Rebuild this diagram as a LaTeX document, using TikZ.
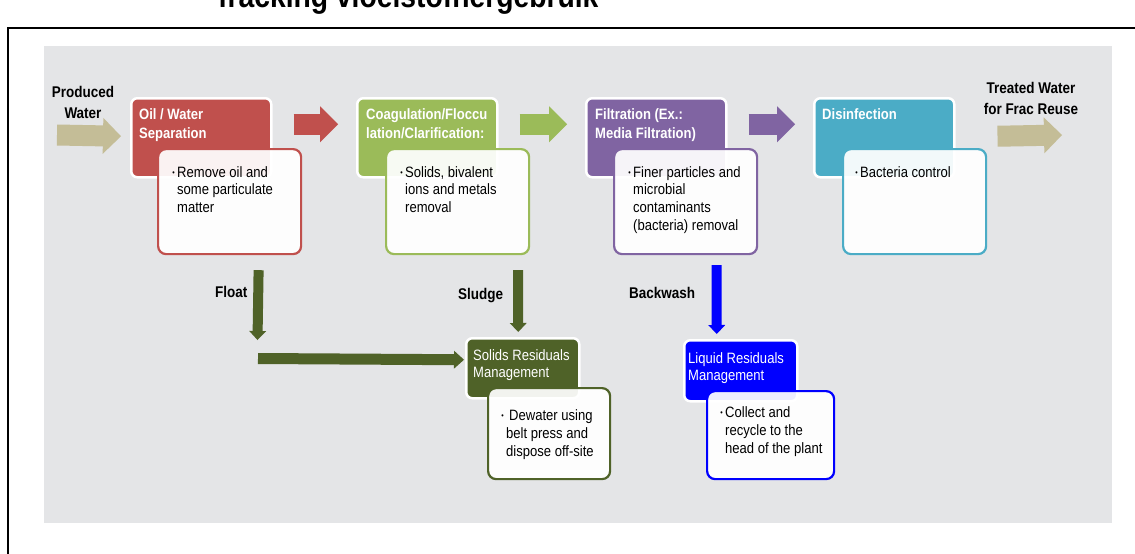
\documentclass[tikz,border=0pt]{standalone}
\usepackage{fontspec}
\setmainfont{Liberation Sans}[FakeStretch=0.87]
\usetikzlibrary{arrows.meta, positioning, calc}

\definecolor{oilred}{HTML}{C0504D}
\definecolor{coaggreen}{HTML}{9BBB59}
\definecolor{filtpurple}{HTML}{8064A2}
\definecolor{disteal}{HTML}{4BACC6}
\definecolor{flowtan}{HTML}{C4BD97}
\definecolor{solidgreen}{HTML}{4F6228}
\definecolor{liquidblue}{HTML}{0000FF}
\definecolor{panelgray}{HTML}{E4E5E7}

% small hanging bullet
\newcommand{\bul}{\llap{\raisebox{1.5pt}{\fontsize{8}{8}\selectfont\textbullet}\hspace{2.5pt}}}

\begin{document}
\begin{tikzpicture}[
    x=1pt, y=-1pt,
    % Styles
    header/.style={rectangle, draw=white, line width=2.5pt, rounded corners=6pt, anchor=north west, inner sep=0pt, minimum width=140pt, minimum height=79pt},
    detail/.style={rectangle, line width=2.2pt, rounded corners=8pt, anchor=north west, inner sep=0pt, fill=white, fill opacity=0.93, minimum width=143pt, minimum height=105pt},
    headtext/.style={anchor=north west, inner sep=0pt, align=left, text=white, font=\fontsize{15}{19}\selectfont\bfseries},
    resttext/.style={anchor=north west, inner sep=0pt, align=left, text=white, font=\fontsize{15}{17.5}\selectfont},
    bullettext/.style={anchor=north west, inner sep=0pt, align=left, font=\fontsize{15}{17.7}\selectfont},
    label/.style={inner sep=0pt, font=\fontsize{15.5}{21.5}\selectfont\bfseries},
    bigflow/.style={draw=#1, line width=21pt, -{Triangle[length=18pt, width=36pt, line width=0pt]}},
    smallflow/.style={draw=#1, line width=10pt, -{Triangle[length=9pt, width=17pt, line width=0pt]}},
]

% === PAGE AND PANEL ===
\useasboundingbox (0,0) rectangle (1135,554);
\fill[white] (0,0) rectangle (1135,554);
\fill[panelgray] (44,46) rectangle (1112,523);
\draw[line width=1.3pt] (8,554) -- (8,28) -- (1135,28);
\begin{scope}
\clip (0,0) rectangle (1135,554);
\node[anchor=base west, inner sep=0pt, font=\fontsize{32.5}{34}\selectfont\bfseries] (title) at (218,8) {fracking vloeistofhergebruik};
\end{scope}

% === TREATMENT STEPS ===
\node[header, fill=oilred] (oil) at (130,97) {};
\node[header, fill=coaggreen] (coag) at (356,97) {};
\node[header, fill=filtpurple] (filt) at (585,97) {};
\node[header, fill=disteal] (dis) at (813,97) {};

\node[headtext] (oilT) at (139,108) {Oil / Water\\Separation};
\node[headtext] (coagT) at (366,108) {Coagulation/Floccu\\lation/Clarification:};
\node[headtext] (filtT) at (595,108) {Filtration (Ex.:\\Media Filtration)};
\node[headtext] (disT) at (822,108) {Disinfection};

\node[detail, draw=oilred] (oilB) at (157,148) {};
\node[detail, draw=coaggreen] (coagB) at (385,148) {};
\node[detail, draw=filtpurple] (filtB) at (613,148) {};
\node[detail, draw=disteal] (disB) at (842,148) {};

\node[bullettext] (oilD) at (177,166) {\bul Remove oil and\\some particulate\\matter};
\node[bullettext] (coagD) at (405,166) {\bul Solids, bivalent\\ions and metals\\removal};
\node[bullettext] (filtD) at (633,166) {\bul Finer particles and\\microbial\\contaminants\\(bacteria) removal};
\node[bullettext] (disD) at (860,166) {\bul Bacteria control};

% === RESIDUALS ===
\node[header, fill=solidgreen, minimum width=113pt, minimum height=60pt] (solids) at (465,337) {};
\node[header, fill=liquidblue, minimum width=113pt, minimum height=61pt] (liquid) at (683,339) {};
\node[resttext] (solidsT) at (473,349) {Solids Residuals\\Management};
\node[resttext] (liquidT) at (688,352) {Liquid Residuals\\Management};

\node[detail, draw=solidgreen, minimum width=122pt, minimum height=91pt] (solidsB) at (487,387) {};
\node[detail, draw=liquidblue, minimum width=127pt, minimum height=88pt] (liquidB) at (706,390) {};
\node[bullettext, font=\fontsize{15}{18}\selectfont] (solidsD) at (506,409) {\bul\hspace{3pt}Dewater using\\belt press and\\dispose off-site};
\node[bullettext, font=\fontsize{15}{18}\selectfont] (liquidD) at (725,406) {\bul Collect and\\recycle to the\\head of the plant};

% === LABELS ===
\node[label, anchor=north, align=center] (prodL) at (83,86) {Produced\\Water};
\node[label, anchor=north, align=center] (treatL) at (1031,82) {Treated Water\\for Frac Reuse};
\node[label, anchor=north west] (floatL) at (215,286) {Float};
\node[label, anchor=north west] (sludgeL) at (458,288) {Sludge};
\node[label, anchor=north west] (backL) at (629,287) {Backwash};

% === FLOW ARROWS ===
\coordinate (feedIn) at (57,135);
\coordinate (treatOut) at (1062,135);
\draw[bigflow=flowtan] (feedIn) -- ($(oil.west)+(-9,-1.5)$);
\draw[bigflow=oilred] ($(oil.east)+(21,-13.5)$) -- ($(coag.west)+(-18,-13.5)$);
\draw[bigflow=coaggreen] ($(coag.east)+(21,-13.5)$) -- ($(filt.west)+(-18,-13.5)$);
\draw[bigflow=filtpurple] ($(filt.east)+(21,-13.5)$) -- ($(dis.west)+(-18,-13.5)$);
\draw[bigflow=flowtan] ($(dis.east)+(42,-1.5)$) -- (treatOut);

% Residual arrows
\coordinate (floatEnd) at (257.5,340);
\coordinate (mergeIn) at (258,358.5);
\draw[smallflow=solidgreen] ($(oilB.south)+(29,15)$) -- (floatEnd);
\draw[smallflow=solidgreen, line width=11pt, -{Triangle[length=10pt, width=18pt, line width=0pt]}] (mergeIn) -- ($(solids.west)+(-1,-8.5)$);
\draw[smallflow=solidgreen] ($(coagB.south)+(60.5,15)$) -- ($(solids.north)+(-4.5,-5)$);
\draw[smallflow=liquidblue] ($(filtB.south)+(31,10)$) -- ($(liquid.north)+(-24,-5)$);

\end{tikzpicture}
\end{document}
